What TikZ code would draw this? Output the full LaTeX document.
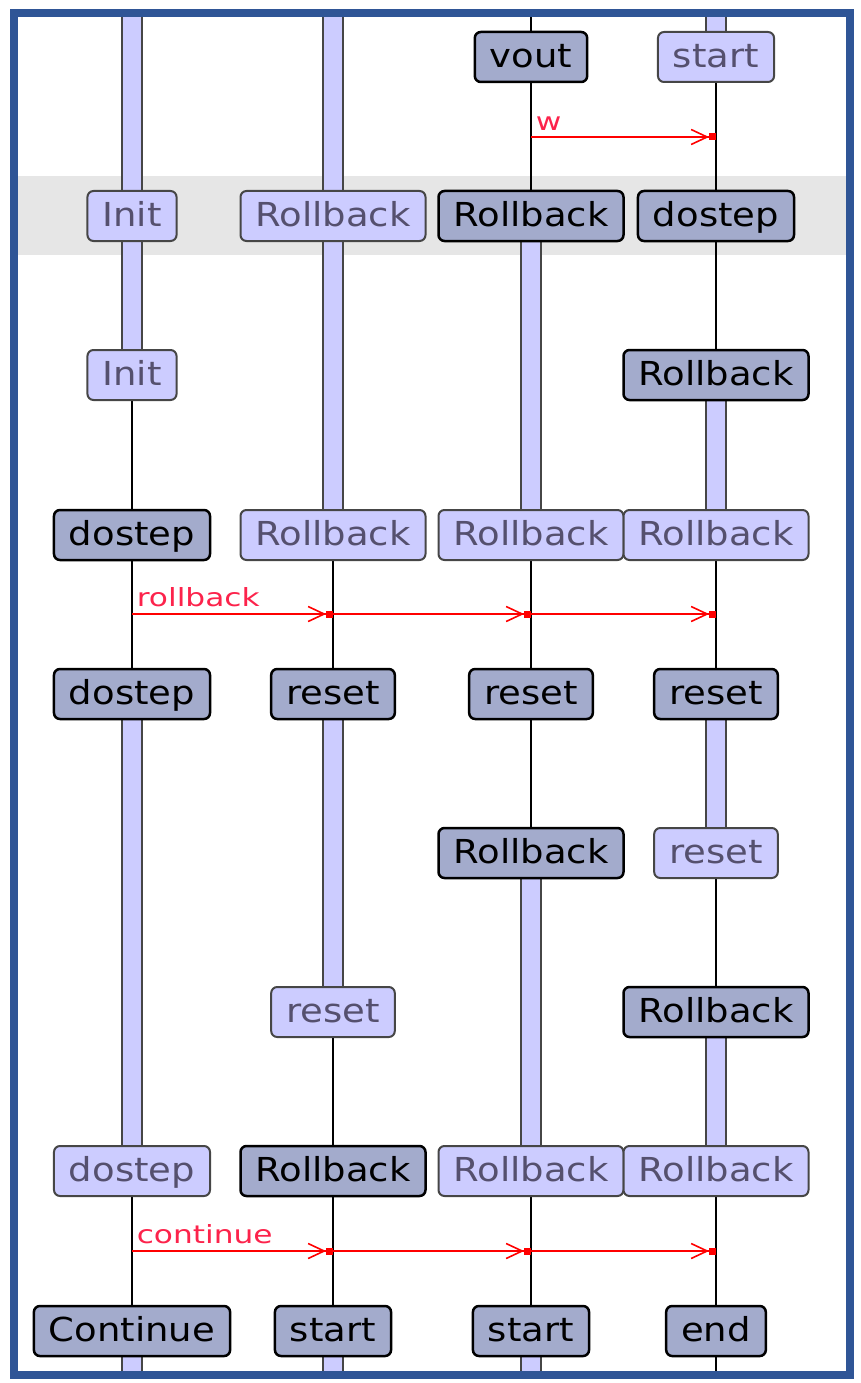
\documentclass[tikz,border=0pt]{standalone}
\usepackage{fontspec}
\usepackage{tikz}
\usetikzlibrary{arrows.meta, backgrounds, calc}
\newfontfamily\statefont[FakeStretch=1.12]{DejaVu Sans}
\newfontfamily\msgfont[FakeStretch=1.25]{DejaVu Sans}
\definecolor{frameblue}{RGB}{47, 85, 150}
\definecolor{bandgray}{RGB}{230, 230, 230}
\definecolor{actfill}{RGB}{163, 171, 204}
\definecolor{idlefill}{RGB}{204, 204, 255}
\definecolor{idleedge}{RGB}{70, 70, 70}
\definecolor{idletext}{RGB}{85, 80, 110}
\definecolor{msgred}{RGB}{255, 0, 0}
\definecolor{msgpink}{RGB}{252, 35, 75}
\tikzset{
  state/.style={rounded corners=6pt, minimum height=50pt, inner xsep=15pt, inner ysep=0pt,
    font=\statefont\fontsize{33pt}{36pt}\selectfont, text height=24pt, text depth=3pt},
  active/.style={state, fill=actfill, draw=black, line width=2.5pt, text=black},
  idle/.style={state, fill=idlefill, draw=idleedge, line width=2pt, text=idletext},
  wire/.style={black, line width=2pt},
  bar/.style={fill=idlefill, draw=idleedge, line width=2.5pt},
  msg/.style={msgred, line width=1.6pt,
    -{Straight Barb[length=16pt,width=15pt] Square[length=7pt,width=7pt]}},
  msglabel/.style={anchor=south west, inner xsep=4pt, inner ysep=6pt, msgpink,
    font=\msgfont\fontsize{25pt}{27pt}\selectfont}
}
\begin{document}
\begin{tikzpicture}[x=1pt, y=-1pt]
  \useasboundingbox (0,0) rectangle (860,1383);

  % states, row by row
  \node[active] (c3r0) at (531,57) {vout};
  \node[idle]   (c4r0) at (716,57) {start};

  \node[idle]   (c1r1) at (132,216) {Init};
  \node[idle]   (c2r1) at (333,216) {Rollback};
  \node[active] (c3r1) at (531,216) {Rollback};
  \node[active] (c4r1) at (716,216) {dostep};

  \node[idle]   (c1r2) at (132,375) {Init};
  \node[active] (c4r2) at (716,375) {Rollback};

  \node[active] (c1r3) at (132,535) {dostep};
  \node[idle]   (c2r3) at (333,535) {Rollback};
  \node[idle]   (c3r3) at (531,535) {Rollback};
  \node[idle]   (c4r3) at (716,535) {Rollback};

  \node[active] (c1r4) at (132,694) {dostep};
  \node[active] (c2r4) at (333,694) {reset};
  \node[active] (c3r4) at (531,694) {reset};
  \node[active] (c4r4) at (716,694) {reset};

  \node[active] (c3r5) at (531,853) {Rollback};
  \node[idle]   (c4r5) at (716,853) {reset};

  \node[idle]   (c2r6) at (333,1012) {reset};
  \node[active] (c4r6) at (716,1012) {Rollback};

  \node[idle]   (c1r7) at (132,1171) {dostep};
  \node[active] (c2r7) at (333,1171) {Rollback};
  \node[idle]   (c3r7) at (531,1171) {Rollback};
  \node[idle]   (c4r7) at (716,1171) {Rollback};

  \node[active] (c1r8) at (132,1331) {Continue};
  \node[active] (c2r8) at (333,1331) {start};
  \node[active] (c3r8) at (531,1331) {start};
  \node[active] (c4r8) at (716,1331) {end};

  % lifeline ends at the frame
  \coordinate (top1) at (132,13);   \coordinate (bot1) at (132,1375);
  \coordinate (top2) at (333,13);   \coordinate (bot2) at (333,1375);
  \coordinate (top3) at (531,13);   \coordinate (bot3) at (531,1375);
  \coordinate (top4) at (716,13);   \coordinate (bot4) at (716,1375);

  \begin{pgfonlayer}{background}
    % highlighted step
    \fill[bandgray] (18,176) rectangle (846,255);

    % lifeline 1
    \draw[bar] ([xshift=-10pt]top1) rectangle ([xshift=10pt]c1r1.center);
    \draw[bar] ([xshift=-10pt]c1r1.center) rectangle ([xshift=10pt]c1r2.center);
    \draw[wire] (c1r2) -- (c1r3);
    \draw[wire] (c1r3) -- (c1r4);
    \draw[bar] ([xshift=-10pt]c1r4.center) rectangle ([xshift=10pt]c1r7.center);
    \draw[wire] (c1r7) -- (c1r8);
    \draw[bar] ([xshift=-10pt]c1r8.center) rectangle ([xshift=10pt]bot1);

    % lifeline 2
    \draw[bar] ([xshift=-10pt]top2) rectangle ([xshift=10pt]c2r1.center);
    \draw[bar] ([xshift=-10pt]c2r1.center) rectangle ([xshift=10pt]c2r3.center);
    \draw[wire] (c2r3) -- (c2r4);
    \draw[bar] ([xshift=-10pt]c2r4.center) rectangle ([xshift=10pt]c2r6.center);
    \draw[wire] (c2r6) -- (c2r7);
    \draw[wire] (c2r7) -- (c2r8);
    \draw[bar] ([xshift=-10pt]c2r8.center) rectangle ([xshift=10pt]bot2);

    % lifeline 3
    \draw[wire] (top3) -- (c3r0);
    \draw[wire] (c3r0) -- (c3r1);
    \draw[bar] ([xshift=-10pt]c3r1.center) rectangle ([xshift=10pt]c3r3.center);
    \draw[wire] (c3r3) -- (c3r4);
    \draw[wire] (c3r4) -- (c3r5);
    \draw[bar] ([xshift=-10pt]c3r5.center) rectangle ([xshift=10pt]c3r7.center);
    \draw[wire] (c3r7) -- (c3r8);
    \draw[bar] ([xshift=-10pt]c3r8.center) rectangle ([xshift=10pt]bot3);

    % lifeline 4
    \draw[bar] ([xshift=-10pt]top4) rectangle ([xshift=10pt]c4r0.center);
    \draw[wire] (c4r0) -- (c4r1);
    \draw[wire] (c4r1) -- (c4r2);
    \draw[bar] ([xshift=-10pt]c4r2.center) rectangle ([xshift=10pt]c4r3.center);
    \draw[wire] (c4r3) -- (c4r4);
    \draw[bar] ([xshift=-10pt]c4r4.center) rectangle ([xshift=10pt]c4r5.center);
    \draw[wire] (c4r5) -- (c4r6);
    \draw[bar] ([xshift=-10pt]c4r6.center) rectangle ([xshift=10pt]c4r7.center);
    \draw[wire] (c4r7) -- (c4r8);
    \draw[wire] (c4r8) -- (bot4);
  \end{pgfonlayer}

  % messages
  \coordinate (w1) at (c3r0 |- 0,137);
  \coordinate (w2) at (c4r0 |- 0,137);
  \draw[msg] (w1) node[msglabel] {w} -- (w2);

  \coordinate (rb1) at (c1r3 |- 0,614);
  \coordinate (rb2) at (c2r3 |- 0,614);
  \coordinate (rb3) at (c3r3 |- 0,614);
  \coordinate (rb4) at (c4r3 |- 0,614);
  \draw[msg] (rb1) node[msglabel] {rollback} -- (rb2);
  \draw[msg] (rb2) -- (rb3);
  \draw[msg] (rb3) -- (rb4);

  \coordinate (ct1) at (c1r7 |- 0,1251);
  \coordinate (ct2) at (c2r7 |- 0,1251);
  \coordinate (ct3) at (c3r7 |- 0,1251);
  \coordinate (ct4) at (c4r7 |- 0,1251);
  \draw[msg] (ct1) node[msglabel] {continue} -- (ct2);
  \draw[msg] (ct2) -- (ct3);
  \draw[msg] (ct3) -- (ct4);

  % frame
  \draw[frameblue, line width=8pt] (14,13) rectangle (850,1375);
\end{tikzpicture}
\end{document}
